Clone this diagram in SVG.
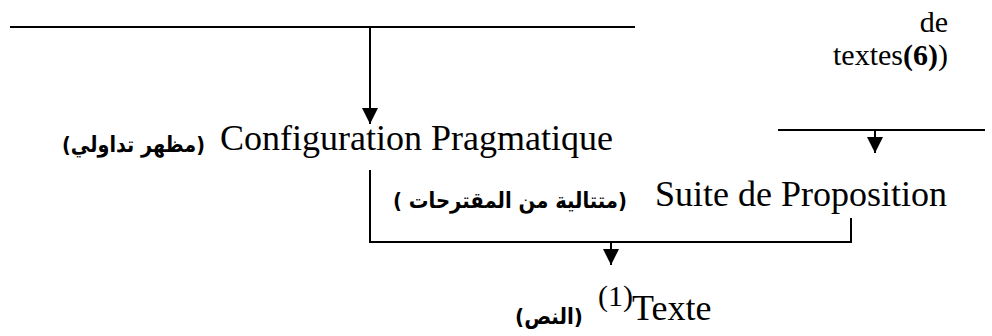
<svg xmlns="http://www.w3.org/2000/svg" width="992" height="336" viewBox="0 0 992 336">
<style>
.ln{stroke:#000;stroke-width:2;fill:none}
.lat{font-family:'Liberation Serif','Times New Roman','DejaVu Serif',serif;font-size:36px;fill:#000}
.sm{font-family:'Liberation Serif','Times New Roman','DejaVu Serif',serif;font-size:30px;fill:#000}
.ar{font-family:'DejaVu Sans',sans-serif;font-weight:bold;font-size:22px;fill:#000}
</style>
<defs>
<marker id="ah" markerUnits="userSpaceOnUse" markerWidth="16" markerHeight="16" refX="16" refY="8" orient="auto" viewBox="0 0 16 16">
<path d="M0,0 L16,8 L0,16 Z" fill="#000"/>
</marker>
</defs>
<rect width="992" height="336" fill="#fff"/>
<g id="connectors">
<line class="ln" x1="10" y1="27" x2="635" y2="27"/>
<line class="ln" x1="370" y1="27" x2="370" y2="124" marker-end="url(#ah)"/>
<line class="ln" x1="778" y1="130" x2="985" y2="130"/>
<line class="ln" x1="875" y1="130" x2="875" y2="153" marker-end="url(#ah)"/>
<path class="ln" d="M370,170 V242 H851 V218"/>
<line class="ln" x1="611" y1="242" x2="611" y2="265" marker-end="url(#ah)"/>
</g>
<g id="node-de-textes">
<text class="sm" x="948" y="32" text-anchor="end">de</text>
<text class="sm" x="948" y="65" text-anchor="end">textes<tspan font-weight="bold">(6)</tspan>)</text>
</g>
<g id="node-configuration">
<text class="ar" x="62" y="152" textLength="143" lengthAdjust="spacingAndGlyphs">(مظهر تداولي)</text>
<text class="lat" x="220" y="150">Configuration Pragmatique</text>
</g>
<g id="node-suite">
<text class="ar" x="393" y="208" textLength="234" lengthAdjust="spacingAndGlyphs">( متتالية من المقترحات)</text>
<text class="lat" x="655" y="206">Suite de Proposition</text>
</g>
<g id="node-texte">
<text class="ar" x="515" y="324" textLength="68" lengthAdjust="spacingAndGlyphs">(النص)</text>
<text class="sm" x="598" y="306" font-size="26">(1)</text>
<text class="lat" x="632" y="320">Texte</text>
</g>
</svg>
